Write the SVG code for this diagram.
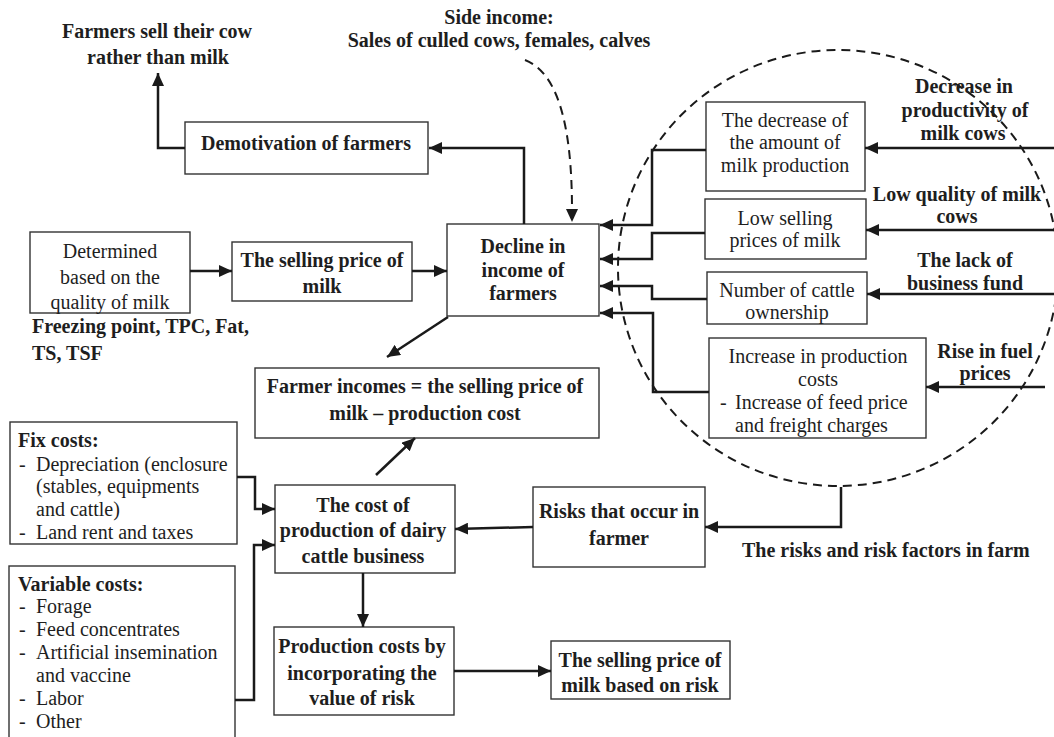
<svg xmlns="http://www.w3.org/2000/svg" width="1054" height="737" viewBox="0 0 1054 737">
<style>
text{font-family:"Liberation Serif","Times New Roman",serif;font-size:20px;fill:#1e1e1e}
.b{font-weight:bold}
.c{text-anchor:middle}
rect{fill:#fff;stroke:#333;stroke-width:1.4}
.ln{fill:none;stroke:#1a1a1a;stroke-width:2.5;marker-end:url(#ah)}
.dash{fill:none;stroke:#1a1a1a;stroke-width:2;stroke-dasharray:9,6}
</style>
<defs>
<marker id="ah" markerUnits="userSpaceOnUse" markerWidth="14" markerHeight="12" refX="13" refY="6" orient="auto">
<path d="M0,0 L13,6 L0,12 z" fill="#1a1a1a"/>
</marker>
</defs>
<g id="risk-circle">
<ellipse class="dash" cx="838" cy="268" rx="220" ry="218"/>
</g>
<g id="n-sell-cow">
<text class="b c" x="157" y="38">Farmers sell their cow</text>
<text class="b c" x="158" y="64">rather than milk</text>
</g>
<g id="n-demotivation">
<rect x="185" y="122" width="243" height="52"/>
<text class="b c" x="306" y="150">Demotivation of farmers</text>
</g>
<g id="n-side-income">
<text class="b c" x="499" y="24">Side income:</text>
<text class="b c" x="499" y="47">Sales of culled cows, females, calves</text>
</g>
<g id="n-determined">
<rect x="30" y="232" width="160" height="81"/>
<text class="c" x="110" y="258">Determined</text>
<text class="c" x="110" y="284">based on the</text>
<text class="c" x="110" y="309">quality of milk</text>
</g>
<g id="n-selling-price">
<rect x="232" y="242" width="180" height="59"/>
<text class="b c" x="322" y="267">The selling price of</text>
<text class="b c" x="322" y="293">milk</text>
</g>
<g id="n-freezing">
<text class="b" x="32" y="333">Freezing point, TPC, Fat,</text>
<text class="b" x="32" y="360">TS, TSF</text>
</g>
<g id="n-decline">
<rect x="447" y="224" width="152" height="92"/>
<text class="b c" x="523" y="253">Decline in</text>
<text class="b c" x="523" y="277">income of</text>
<text class="b c" x="523" y="300">farmers</text>
</g>
<g id="n-farmer-incomes">
<rect x="255" y="368" width="344" height="70"/>
<text class="b c" x="425" y="393">Farmer incomes = the selling price of</text>
<text class="b c" x="425" y="420">milk – production cost</text>
</g>
<g id="n-fix-costs">
<rect x="10" y="422" width="227" height="122"/>
<text class="b" x="18" y="447">Fix costs:</text>
<text x="19" y="471">-</text><text x="36" y="471">Depreciation (enclosure</text>
<text x="36" y="493">(stables, equipments</text>
<text x="36" y="516">and cattle)</text>
<text x="19" y="539">-</text><text x="36" y="539">Land rent and taxes</text>
</g>
<g id="n-variable-costs">
<rect x="9" y="566" width="226" height="185"/>
<text class="b" x="18" y="591">Variable costs:</text>
<text x="19" y="613">-</text><text x="36" y="613">Forage</text>
<text x="19" y="636">-</text><text x="36" y="636">Feed concentrates</text>
<text x="19" y="659">-</text><text x="36" y="659">Artificial insemination</text>
<text x="36" y="682">and vaccine</text>
<text x="19" y="705">-</text><text x="36" y="705">Labor</text>
<text x="19" y="728">-</text><text x="36" y="728">Other</text>
</g>
<g id="n-cost-production">
<rect x="275" y="485" width="180" height="88"/>
<text class="b c" x="363" y="512">The cost of</text>
<text class="b c" x="363" y="537">production of dairy</text>
<text class="b c" x="363" y="563">cattle business</text>
</g>
<g id="n-production-risk">
<rect x="274" y="627" width="180" height="88"/>
<text class="b c" x="362" y="653">Production costs by</text>
<text class="b c" x="362" y="680">incorporating the</text>
<text class="b c" x="362" y="705">value of risk</text>
</g>
<g id="n-selling-risk">
<rect x="551" y="641" width="179" height="58"/>
<text class="b c" x="640" y="667">The selling price of</text>
<text class="b c" x="640" y="692">milk based on risk</text>
</g>
<g id="n-risks-farmer">
<rect x="533" y="487" width="172" height="80"/>
<text class="b c" x="619" y="518">Risks that occur in</text>
<text class="b c" x="619" y="545">farmer</text>
</g>
<g id="n-risk-factors">
<text class="b" x="742" y="557">The risks and risk factors in farm</text>
</g>
<g id="n-decrease-amount">
<rect x="706" y="102" width="159" height="89"/>
<text class="c" x="785" y="127">The decrease of</text>
<text class="c" x="785" y="149">the amount of</text>
<text class="c" x="785" y="172">milk production</text>
</g>
<g id="n-low-selling">
<rect x="705" y="199" width="161" height="60"/>
<text class="c" x="785" y="225">Low selling</text>
<text class="c" x="785" y="247">prices of milk</text>
</g>
<g id="n-cattle-ownership">
<rect x="707" y="272" width="160" height="52"/>
<text class="c" x="787" y="297">Number of cattle</text>
<text class="c" x="787" y="319">ownership</text>
</g>
<g id="n-increase-costs">
<rect x="709" y="338" width="217" height="100"/>
<text class="c" x="818" y="363">Increase in production</text>
<text class="c" x="818" y="386">costs</text>
<text x="720" y="409">-</text><text x="735" y="409">Increase of feed price</text>
<text x="735" y="432">and freight charges</text>
</g>
<g id="n-productivity">
<text class="b c" x="964" y="93">Decrease in</text>
<text class="b c" x="965" y="117">productivity of</text>
<text class="b c" x="963" y="140">milk cows</text>
</g>
<g id="n-low-quality">
<text class="b c" x="957" y="201">Low quality of milk</text>
<text class="b c" x="957" y="223">cows</text>
</g>
<g id="n-business-fund">
<text class="b c" x="965" y="267">The lack of</text>
<text class="b c" x="965" y="290">business fund</text>
</g>
<g id="n-fuel">
<text class="b c" x="985" y="358">Rise in fuel</text>
<text class="b c" x="985" y="380">prices</text>
</g>
<g id="connectors">
<path class="ln" d="M185,148 H158 V73"/>
<path class="ln" d="M524,224 V148 H429"/>
<path class="dash" d="M525,60 C556,72 572,120 572,210"/>
<path d="M566,209 L578,209 L572,222 z" fill="#1a1a1a"/>
<path class="ln" d="M190,271 H232"/>
<path class="ln" d="M412,271 H447"/>
<path class="ln" d="M706,150 H652 V225 H600"/>
<path class="ln" d="M705,233 H652 V259 H600"/>
<path class="ln" d="M707,299 H652 V286 H600"/>
<path class="ln" d="M709,392 H653 V313 H600"/>
<path class="ln" d="M1054,148 H865"/>
<path class="ln" d="M1054,230 H866"/>
<path class="ln" d="M1054,294 H867"/>
<path class="ln" d="M1045,387 H926"/>
<path class="ln" d="M448,317 L387,357"/>
<path class="ln" d="M376,475 L415,438"/>
<path class="ln" d="M237,477 H255 V509 H275"/>
<path class="ln" d="M235,700 H254 V545 H275"/>
<path class="ln" d="M363,573 V627"/>
<path class="ln" d="M454,671 H551"/>
<path class="ln" d="M841,487 V527 H705"/>
<path class="ln" d="M533,527 L455,529"/>
</g>
</svg>
